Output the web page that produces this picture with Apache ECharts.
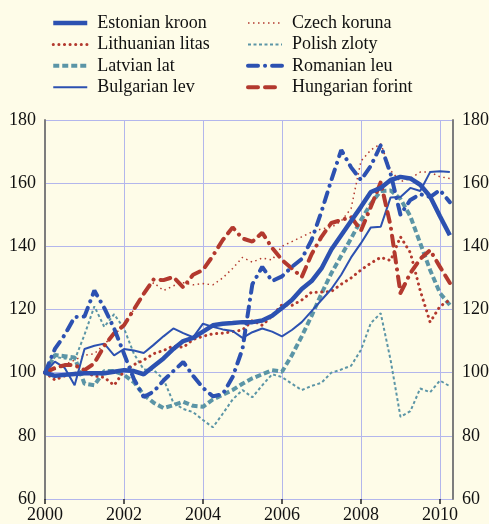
<!DOCTYPE html>
<html>
<head>
<meta charset="utf-8">
<script src="https://cdn.jsdelivr.net/npm/echarts@6/dist/echarts.min.js"></script>
<style>
  html, body { margin: 0; padding: 0; background: #fefce8; }
  #chart { width: 489px; height: 524px; }
</style>
</head>
<body>
<div id="chart"></div>
<script>
// quarterly points, 2000Q1 .. 2010Q2
var quarters = [];
for (var i = 0; i < 42; i++) quarters.push(2000 + i * 0.25);

var yearTicks = [2000, 2002, 2004, 2006, 2008, 2010];

var estonian = [100, 99, 99.3, 99.6, 99.8, 99.8, 99.8, 100.3, 100.8, 100.5, 99.5, 102,
  104.5, 107.5, 110, 111, 113, 115, 115.5, 115.7, 116, 116, 116.5, 118, 120.5, 123,
  126.5, 129, 133, 139, 143.5, 148, 152.5, 157.2, 158.5, 161, 162, 161.5, 159.5, 155.8, 149.5, 143.5];
var lithuanian = [100, 97.7, 99, 99.8, 100, 99, 98.5, 96, 100.5, 102.5, 104, 106,
  107, 108.5, 108, 110.5, 111.5, 112.3, 112.5, 113, 113.5, 116.5, 115, 118, 121.5, 121.3,
  123, 125.5, 125.5, 125.7, 128, 130, 132.5, 134.7, 136.5, 135.5, 143, 138, 126, 116, 121, 123];
var latvian = [100, 105.6, 105.2, 104.8, 96.5, 96, 100.5, 100.5, 99.3, 97, 93, 90.5,
  88.8, 89.7, 90.8, 89.5, 89.2, 91.5, 93, 94.5, 96.5, 98.2, 99.5, 100.8, 100.3, 105.5,
  111.5, 118, 125, 131.5, 137, 142.5, 148.3, 153.5, 157.5, 157.7, 155, 149.5, 141, 132.5, 125.2, 121.4];
var bulgarian = [100, 103.5, 101.5, 96, 107.5, 108.5, 109.2, 105.5, 107.5, 107, 106.2, 108.8,
  111.5, 114, 112.5, 111.2, 115.5, 114.5, 113.7, 113.2, 111, 112.8, 114, 113, 111.5, 113.5,
  116, 119.5, 123, 126.5, 131, 136.5, 141, 146, 146.2, 155.5, 155.6, 158.5, 157.5, 163.5, 163.8, 163.5];
var czech = [100, 101, 102.5, 104, 105.5, 106, 109, 112, 115, 120, 125, 128.5,
  126, 127.5, 128.5, 127.8, 128.2, 127.8, 130, 133, 136.5, 135, 136.3, 135.7, 140, 141.5,
  143, 144.5, 145.5, 146, 148, 152, 167, 170.5, 172.5, 164, 160.5, 161.5, 163.5, 163.5, 162, 161.5];
var polish = [100, 105, 104.5, 104, 112, 121, 114.5, 118.5, 114, 106, 101, 100.8,
  98, 90.5, 88.5, 87.5, 85, 82.7, 87, 91.5, 94.5, 92.2, 96, 99.5, 98.6, 96.5,
  94.5, 95.8, 96.8, 100, 101, 102.2, 107.2, 115.7, 118.8, 104, 86, 87.8, 95, 93.8, 97.5, 95.7];
var romanian = [100, 107.5, 112, 117.6, 117.8, 126, 120.5, 114, 106, 98, 92.3, 94,
  97.5, 100.5, 103.4, 99, 95.2, 92.5, 93.2, 98.6, 107.5, 128, 133.5, 129, 130.5, 133.5,
  136, 142, 151, 161, 170.5, 165, 161, 165.5, 172, 163, 150, 154.7, 156.5, 155.6, 157.8, 154];
var hungarian = [100, 101.5, 102.4, 102.4, 100.8, 103, 108.5, 112.5, 115, 120, 125, 129.5,
  129.3, 130.3, 127, 131, 132.5, 137, 142, 146, 142.5, 141.5, 144.3, 139.5, 135.7, 133,
  130.3, 137.5, 143, 147.4, 148.3, 149.3, 145, 152.5, 160.3, 146.5, 125.2, 131.5, 136, 138.8, 133.5, 128.4];

var blue = '#2c51b1', red = '#b3392e', teal = '#5b95a6';

function pairs(vals) {
  return vals.map(function (v, k) { return [quarters[k], v]; });
}

function line(name, vals, color, width, type, cap) {
  return {
    name: name,
    type: 'line',
    data: pairs(vals),
    symbol: 'none',
    smooth: false,
    lineStyle: { color: color, width: width, type: type, cap: cap || 'butt' },
    itemStyle: { color: color }
  };
}

var myChart = echarts.init(document.getElementById('chart'));

var legendText = {
  fontFamily: 'Liberation Serif',
  fontSize: 18,
  color: '#111',
  lineHeight: 20,
  padding: [0, 0, 0, 5]
};

function legendCol(left, names) {
  return {
    orient: 'vertical',
    left: left,
    top: 8,
    itemWidth: 34,
    itemHeight: 12,
    itemGap: 1.4,
    itemStyle: { opacity: 0 },
    lineStyle: { width: 'inherit' },
    textStyle: legendText,
    data: names
  };
}

var option = {
  backgroundColor: '#fefce8',
  animation: false,
  legend: [
    legendCol(46, ['Estonian kroon', 'Lithuanian litas', 'Latvian lat', 'Bulgarian lev']),
    legendCol(241, ['Czech koruna', 'Polish zloty', 'Romanian leu', 'Hungarian forint'])
  ],
  grid: { left: 45, right: 36, top: 120, bottom: 25, outerBoundsMode: 'none' },
  xAxis: {
    type: 'value',
    min: 2000,
    max: 2010.33,
    interval: 2,
    axisLine: { show: false },
    axisTick: { show: true, length: 5, customValues: yearTicks, lineStyle: { color: '#222', width: 1.5 } },
    axisLabel: {
      customValues: yearTicks,
      margin: 7,
      fontFamily: 'Liberation Serif',
      fontSize: 18,
      color: '#111',
      formatter: function (v) { return String(v); }
    },
    splitLine: { show: true, lineStyle: { color: '#b3b6ec', width: 1 } }
  },
  yAxis: [{
    type: 'value',
    min: 60,
    max: 180,
    interval: 20,
    position: 'left',
    axisLine: { show: true, lineStyle: { color: '#7d7d7d', width: 2 } },
    axisTick: { show: false },
    axisLabel: { margin: 9, fontFamily: 'Liberation Serif', fontSize: 18, color: '#111' },
    splitLine: { show: true, lineStyle: { color: '#b3b6ec', width: 1 } }
  }, {
    type: 'value',
    min: 60,
    max: 180,
    interval: 20,
    position: 'right',
    axisLine: { show: true, lineStyle: { color: '#7d7d7d', width: 2 } },
    axisTick: { show: false },
    axisLabel: { margin: 9, fontFamily: 'Liberation Serif', fontSize: 18, color: '#111' },
    splitLine: { show: false }
  }],
  series: [
    line('Polish zloty', polish, teal, 2, [3, 2.5]),
    line('Czech koruna', czech, red, 1.5, [1.5, 3.5]),
    line('Latvian lat', latvian, teal, 4, [6, 3]),
    line('Lithuanian litas', lithuanian, red, 3, [0.1, 5.5], 'round'),
    line('Bulgarian lev', bulgarian, blue, 2),
    line('Hungarian forint', hungarian, red, 4, [10, 7, 10, 7, 0.1, 7], 'round'),
    line('Romanian leu', romanian, blue, 4, [10, 7, 0.1, 7], 'round'),
    line('Estonian kroon', estonian, blue, 4.5)
  ]
};

myChart.setOption(option);
</script>
</body>
</html>
